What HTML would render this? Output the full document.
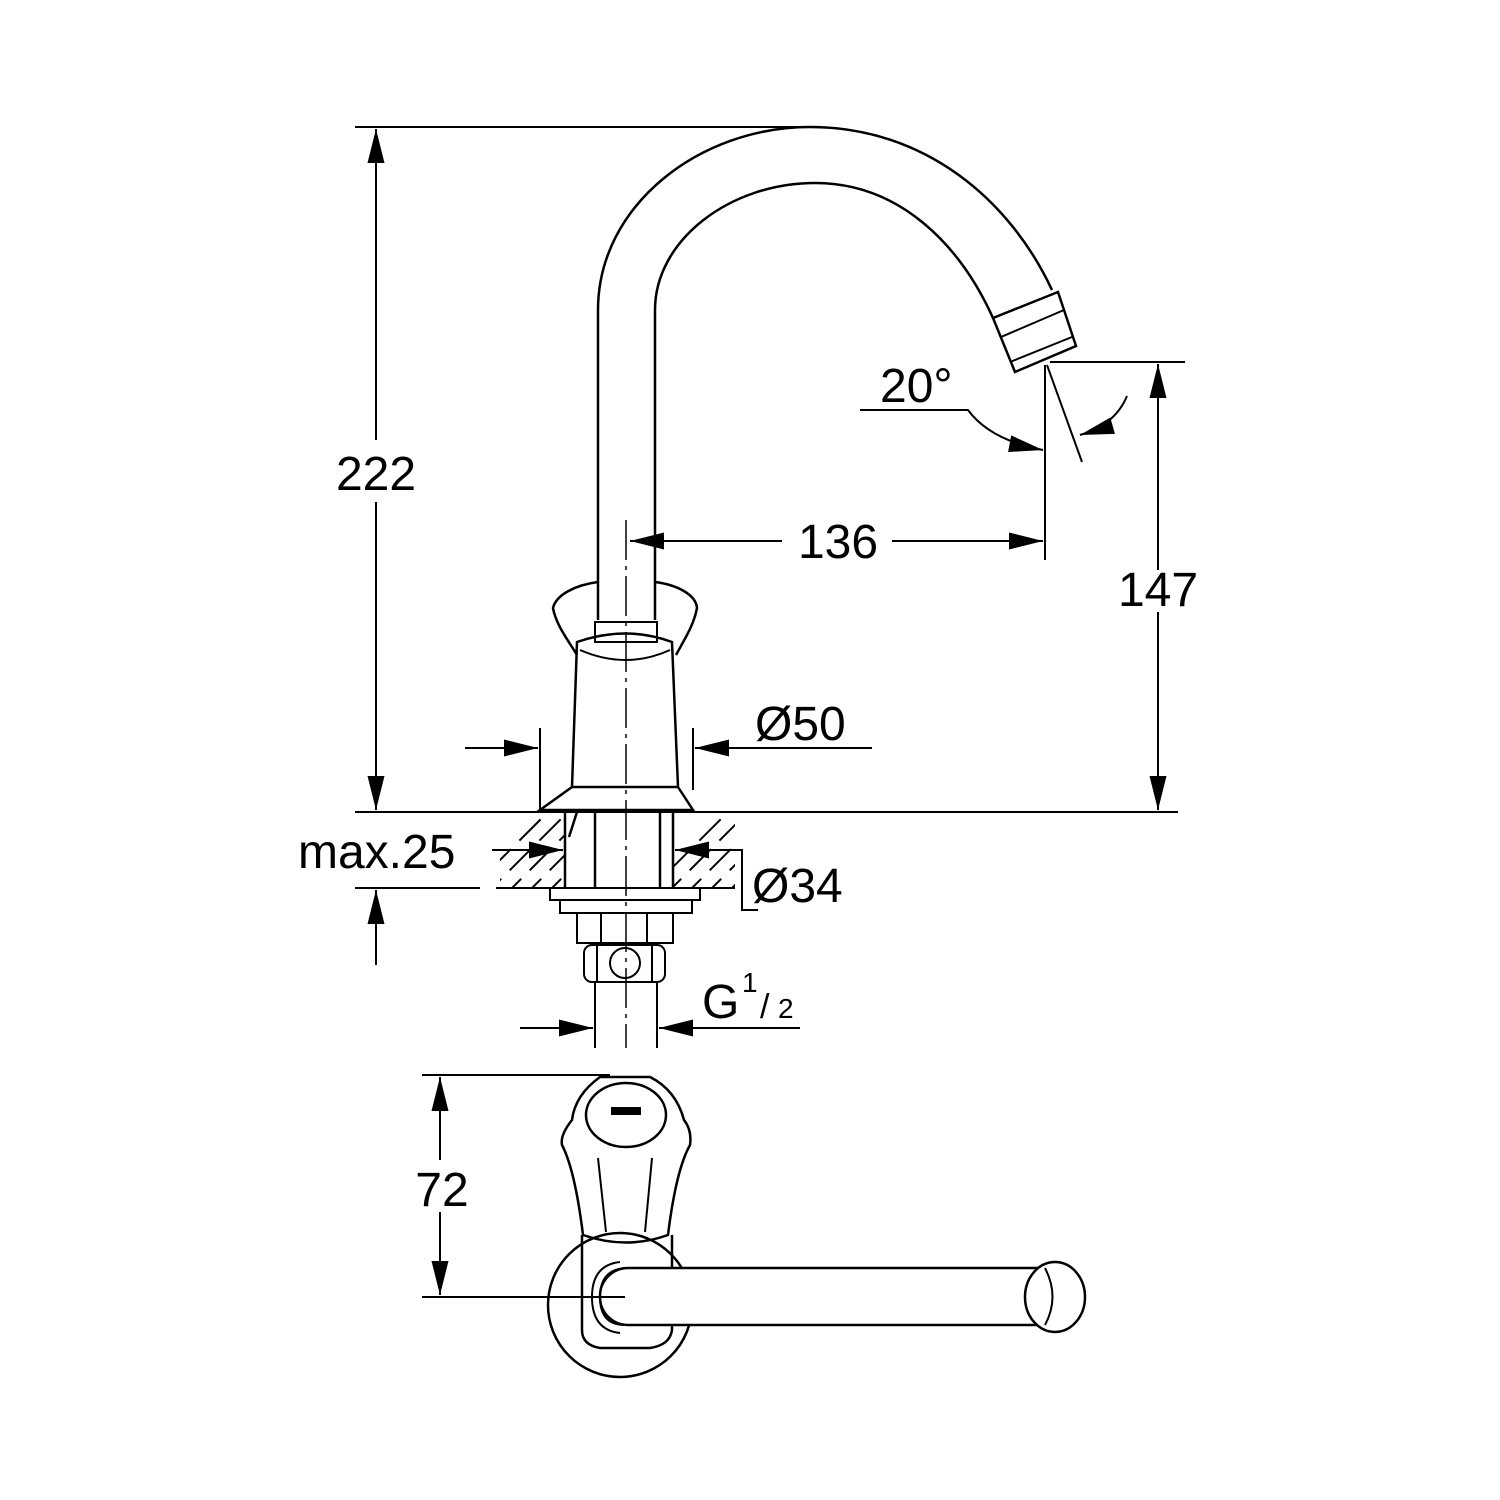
<!DOCTYPE html>
<html><head><meta charset="utf-8"><style>html,body{margin:0;padding:0;background:#fff}svg{display:block}</style></head>
<body>
<svg width="1500" height="1500" viewBox="0 0 1500 1500" xmlns="http://www.w3.org/2000/svg">
<defs>
<marker id="a" viewBox="0 0 10 10" refX="10" refY="5" markerWidth="34" markerHeight="34" markerUnits="userSpaceOnUse" orient="auto"><path d="M0,2.5 L10,5 L0,7.5 Z" fill="#000"/></marker>
<clipPath id="hc"><path d="M500,812 H565 V888 H500 Z M673,812 H735 V888 H673 Z"/></clipPath>
</defs>
<g fill="none" stroke="#000" stroke-width="2">
<line x1="355" y1="127" x2="810" y2="127"/>
<line x1="376" y1="440" x2="376" y2="129" marker-end="url(#a)"/>
<line x1="376" y1="502" x2="376" y2="810" marker-end="url(#a)"/>
<line x1="355" y1="812" x2="1178" y2="812"/>
<line x1="355" y1="888" x2="480" y2="888"/>
<line x1="496" y1="888" x2="565" y2="888"/>
<line x1="673" y1="888" x2="735" y2="888"/>
<line x1="376" y1="965" x2="376" y2="890" marker-end="url(#a)"/>
<line x1="1050" y1="362" x2="1185" y2="362"/>
<line x1="1158" y1="570" x2="1158" y2="364" marker-end="url(#a)"/>
<line x1="1158" y1="612" x2="1158" y2="810" marker-end="url(#a)"/>
<line x1="1045" y1="365" x2="1045" y2="560"/>
<line x1="782" y1="541" x2="630" y2="541" marker-end="url(#a)"/>
<line x1="892" y1="541" x2="1043" y2="541" marker-end="url(#a)"/>
<line x1="1047" y1="365" x2="1082" y2="462"/>
<path d="M860,410 H968 Q990,440 1043,450" marker-end="url(#a)"/>
<path d="M1127,396 Q1115,425 1080,435" marker-end="url(#a)"/>
<line x1="540" y1="728" x2="540" y2="812"/>
<line x1="693" y1="728" x2="693" y2="790"/>
<line x1="465" y1="748" x2="538" y2="748" marker-end="url(#a)"/>
<line x1="872" y1="748" x2="695" y2="748" marker-end="url(#a)"/>
<line x1="492" y1="850" x2="563" y2="850" marker-end="url(#a)"/>
<path d="M758,910 H742 V850 H675" marker-end="url(#a)"/>
<line x1="520" y1="1028" x2="593" y2="1028" marker-end="url(#a)"/>
<line x1="800" y1="1028" x2="659" y2="1028" marker-end="url(#a)"/>
<line x1="595" y1="982" x2="595" y2="1048"/>
<line x1="657" y1="982" x2="657" y2="1048"/>
<g clip-path="url(#hc)" stroke-width="2">
<path d="M460,900 l100,-100 M480,900 l100,-100 M500,900 l100,-100 M520,900 l100,-100 M540,900 l100,-100 M640,900 l100,-100 M660,900 l100,-100 M680,900 l100,-100 M700,900 l100,-100 M720,900 l100,-100" stroke-dasharray="30,12"/>
</g>
<path d="M598,620 L598,310 C598,205 700,127 810,127 C925,127 1010,200 1052,290" stroke-width="2.5"/>
<path d="M655,620 L655,310 C655,240 730,183 815,183 C900,183 960,245 993,318" stroke-width="2.5"/>
<path d="M993,318 L1058,292 L1076,346 L1015,372 Z" stroke-width="2.5"/>
<line x1="1001" y1="337" x2="1064" y2="310"/>
<line x1="1010" y1="362" x2="1072" y2="337"/>
<path d="M598,582 C575,585 556,595 553,608 C556,625 568,640 577,655" stroke-width="2.5"/>
<path d="M655,582 C678,585 696,595 697,608 C694,625 684,640 676,655" stroke-width="2.5"/>
<rect x="595" y="622" width="62" height="20"/>
<path d="M577,642 Q626,625 672,642 L678,787 L572,787 Z" stroke-width="2.5"/>
<path d="M580,650 Q626,670 670,650"/>
<path d="M572,787 L540,810 L693,810 L678,787" stroke-width="2.5"/>
<path d="M565,812 V888 M673,812 V888 M595,812 V888 M660,812 V888 M577,812 l-8,25" stroke-width="2.5"/>
<rect x="550" y="888" width="150" height="12"/>
<rect x="560" y="900" width="132" height="13"/>
<rect x="577" y="913" width="96" height="30"/>
<path d="M601,913 V943 M647,913 V943"/>
<rect x="584" y="945" width="81" height="37" rx="8"/>
<circle cx="625" cy="963" r="15"/>
<path d="M597,945 V982 M652,945 V982"/>
<line x1="626" y1="520" x2="626" y2="1048" stroke-width="1.5" stroke-dasharray="40,6,4,6"/>
<line x1="422" y1="1075" x2="610" y2="1075"/>
<line x1="440" y1="1160" x2="440" y2="1077" marker-end="url(#a)"/>
<line x1="440" y1="1212" x2="440" y2="1295" marker-end="url(#a)"/>
<circle cx="620" cy="1305" r="72" stroke-width="2.5"/>
<path d="M582,1235 V1330 Q582,1345 600,1348 H650 Q670,1345 672,1330 V1235" stroke-width="2.5"/>
<path d="M600,1077 Q575,1095 572,1120 Q560,1135 562,1145 Q575,1170 583,1235 Q626,1250 668,1235 Q676,1170 690,1145 Q692,1130 684,1120 Q676,1090 650,1077 Z" stroke-width="2.5"/>
<ellipse cx="626" cy="1115" rx="40" ry="32" stroke-width="2.5"/>
<rect x="612" y="1108" width="28" height="6" fill="#000"/>
<path d="M598,1158 L606,1232 M652,1158 L645,1232"/>
<rect x="600" y="1268" width="480" height="57" rx="28" fill="#fff" stroke-width="2.5"/>
<ellipse cx="1055" cy="1297" rx="30" ry="35" fill="#fff" stroke-width="2.5"/>
<path d="M1045,1268 Q1060,1297 1045,1325"/>
<rect x="602" y="1272" width="50" height="50" rx="25" fill="#fff" stroke="none"/>
<path d="M625,1268 Q600,1270 600,1297 Q600,1325 625,1325 M620,1262 Q592,1265 592,1297 Q592,1330 620,1333"/>
<line x1="422" y1="1297" x2="625" y2="1297"/>
</g>
<g font-family="Liberation Sans, sans-serif" font-size="48" fill="#000">
<text x="376" y="490" text-anchor="middle">222</text>
<text x="1158" y="606" text-anchor="middle">147</text>
<text x="838" y="558" text-anchor="middle">136</text>
<text x="880" y="402">20°</text>
<text x="755" y="740">Ø50</text>
<text x="298" y="868">max.25</text>
<text x="752" y="902">Ø34</text>
<text x="702" y="1018">G</text>
<text x="742" y="992" font-size="28">1</text>
<text x="760" y="1018" font-size="34">/</text>
<text x="778" y="1018" font-size="28">2</text>
<text x="442" y="1206" text-anchor="middle">72</text>
</g>
</svg>
</body></html>
